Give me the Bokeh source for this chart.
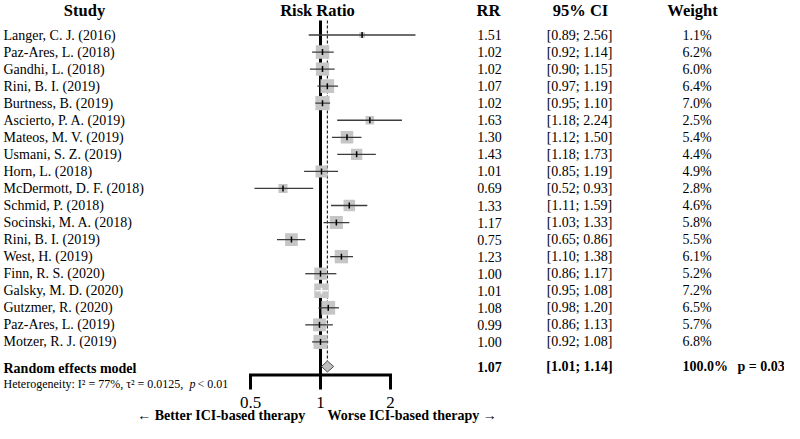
import math
from bokeh.plotting import figure
from bokeh.models import Range1d, LogScale, ColumnDataSource
from bokeh.core.properties import value
from bokeh.embed import file_html
from bokeh.resources import INLINE

# ---------------- data ----------------
studies = ["Langer, C. J. (2016)", "Paz-Ares, L. (2018)", "Gandhi, L. (2018)",
           "Rini, B. I. (2019)", "Burtness, B. (2019)", "Ascierto, P. A. (2019)",
           "Mateos, M. V. (2019)", "Usmani, S. Z. (2019)", "Horn, L. (2018)",
           "McDermott, D. F. (2018)", "Schmid, P. (2018)", "Socinski, M. A. (2018)",
           "Rini, B. I. (2019)", "West, H. (2019)", "Finn, R. S. (2020)",
           "Galsky, M. D. (2020)", "Gutzmer, R. (2020)", "Paz-Ares, L. (2019)",
           "Motzer, R. J. (2019)"]
rr = [1.51, 1.02, 1.02, 1.07, 1.02, 1.63, 1.30, 1.43, 1.01, 0.69, 1.33, 1.17,
      0.75, 1.23, 1.00, 1.01, 1.08, 0.99, 1.00]
ci_lo = [0.89, 0.92, 0.90, 0.97, 0.95, 1.18, 1.12, 1.18, 0.85, 0.52, 1.11, 1.03,
         0.65, 1.10, 0.86, 0.95, 0.98, 0.86, 0.92]
ci_hi = [2.56, 1.14, 1.15, 1.19, 1.10, 2.24, 1.50, 1.73, 1.19, 0.93, 1.59, 1.33,
         0.86, 1.38, 1.17, 1.08, 1.20, 1.13, 1.08]
weight = [1.1, 6.2, 6.0, 6.4, 7.0, 2.5, 5.4, 4.4, 4.9, 2.8, 4.6, 5.8, 5.5, 6.1,
          5.2, 7.2, 6.5, 5.7, 6.8]

summary_label = "Random effects model"
summary_rr = 1.07
summary_lo = 1.01
summary_hi = 1.14
summary_weight = 100.0
summary_p = "p = 0.03"
het_i2 = 77
het_tau2 = 0.0125
het_p = "< 0.01"

null_value = 1.0
axis_ticks = [0.5, 1.0, 2.0]
axis_tick_labels = ["0.5", "1", "2"]
headers = ["Study", "Risk Ratio", "RR", "95% CI", "Weight"]
left_label = "\u2190 Better ICI-based therapy"
right_label = "Worse ICI-based therapy \u2192"

# ---------------- layout (coordinates = figure pixels) ----------------
FIG_W, FIG_H = 784, 423
ONE_X = 320.0          # x of RR = 1
PX_PER_DOUBLING = 70.0
ROW0, ROW_STEP = 34.5, 17.05
SUM_Y = 366.0
AX_Y, AX_TICK_END = 374.5, 389.0
FONT = value("Liberation Serif")

p = figure(width=FIG_W, height=FIG_H,
           x_range=Range1d(0, FIG_W), y_range=Range1d(FIG_H, 0),
           x_axis_type=None, y_axis_type=None, output_backend="svg",
           toolbar_location=None, min_border=0, outline_line_color=None)
p.background_fill_color = "white"
p.border_fill_color = "white"
p.extra_x_ranges = {"rr": Range1d(start=2 ** ((0 - ONE_X) / PX_PER_DOUBLING),
                                  end=2 ** ((FIG_W - ONE_X) / PX_PER_DOUBLING))}
p.extra_x_scales = {"rr": LogScale()}

ys = [ROW0 + ROW_STEP * i for i in range(len(studies))]
sizes = [5.4 * math.sqrt(w) for w in weight]
inside = [(math.log2(h) - math.log2(l)) * PX_PER_DOUBLING < s
          for l, h, s in zip(ci_lo, ci_hi, sizes)]
ci_color = ["white" if f else "#3c3c3c" for f in inside]
tick_color = ["white" if f else "black" for f in inside]

src = ColumnDataSource(dict(
    study=studies, rr=rr, lo=ci_lo, hi=ci_hi, y=ys, size=sizes,
    ci_color=ci_color, tick_color=tick_color,
    rr_txt=[f"{v:.2f}" for v in rr],
    ci_txt=[f"[{l:.2f}; {h:.2f}]" for l, h in zip(ci_lo, ci_hi)],
    w_txt=[f"{w:.1f}%" for w in weight],
))

# reference lines
p.segment(x0=[null_value], x1=[null_value], y0=[20], y1=[AX_TICK_END], line_color="black",
          line_width=3, x_range_name="rr")
p.segment(x0=[summary_rr], x1=[summary_rr], y0=[20], y1=[SUM_Y - 5.5], line_color="black",
          line_width=1, line_dash="3 2", x_range_name="rr")

# study boxes and CIs
p.scatter(x="rr", y="y", size="size", marker="square", fill_color="#c6c6c6",
          line_color=None, x_range_name="rr", source=src)
p.segment(x0="lo", x1="hi", y0="y", y1="y", line_color="ci_color", line_width=1.3,
          x_range_name="rr", source=src)
p.scatter(x="rr", y="y", marker="dash", angle=math.pi / 2, size=6, line_color="tick_color",
          line_width=1.5, x_range_name="rr", source=src)

# summary diamond
p.patch(x=[summary_lo, summary_rr, summary_hi, summary_rr],
        y=[SUM_Y, SUM_Y - 5.5, SUM_Y, SUM_Y + 5.5],
        fill_color="#c0c0c0", line_color="#505050", line_width=1, x_range_name="rr")

# bracket axis
p.line(x=[axis_ticks[0], axis_ticks[0], axis_ticks[-1], axis_ticks[-1]],
       y=[AX_TICK_END, AX_Y, AX_Y, AX_TICK_END], line_color="black", line_width=3,
       line_join="miter", x_range_name="rr")
p.text(x=axis_ticks, y=[402] * len(axis_ticks), text=axis_tick_labels, text_font=FONT,
       text_font_size=value("17px"), text_align="center", text_baseline="middle",
       x_range_name="rr")

# headers
p.text(x=[84, 317, 488, 580, 692], y=[10] * 5, text=headers, text_font=FONT,
       text_font_size=value("16.5px"), text_font_style="bold", text_align="center",
       text_baseline="middle")

# row texts
row_font = value("14px")
p.text(x=3, y="y", text="study", source=src, text_font=FONT, text_font_size=row_font,
       text_align="left", text_baseline="middle")
p.text(x=489, y="y", text="rr_txt", source=src, text_font=FONT, text_font_size=row_font,
       text_align="center", text_baseline="middle")
p.text(x=579, y="y", text="ci_txt", source=src, text_font=FONT, text_font_size=row_font,
       text_align="center", text_baseline="middle")
p.text(x=682, y="y", text="w_txt", source=src, text_font=FONT, text_font_size=row_font,
       text_align="left", text_baseline="middle")

# summary row
p.text(x=[3], y=[SUM_Y + 2], text=[summary_label], text_font=FONT,
       text_font_size=value("14px"), text_font_style="bold", text_baseline="middle")
p.text(x=[489, 579], y=[SUM_Y] * 2,
       text=[f"{summary_rr:.2f}", f"[{summary_lo:.2f}; {summary_hi:.2f}]"],
       text_font=FONT, text_font_size=row_font, text_font_style="bold",
       text_align="center", text_baseline="middle")
p.text(x=[682, 737], y=[SUM_Y] * 2, text=[f"{summary_weight:.1f}%", summary_p],
       text_font=FONT, text_font_size=row_font, text_font_style="bold",
       text_align="left", text_baseline="middle")

# heterogeneity
het_font = value("12px")
p.text(x=[3], y=[383], text=[f"Heterogeneity: I\u00b2 = {het_i2}%, \u03c4\u00b2 = {het_tau2}, "],
       text_font=FONT, text_font_size=het_font, text_baseline="middle")
p.text(x=[189], y=[383], text=["p"], text_font=FONT, text_font_size=het_font,
       text_font_style="italic", text_baseline="middle")
p.text(x=[197], y=[383], text=[het_p], text_font=FONT, text_font_size=het_font,
       text_baseline="middle")

# direction labels
p.text(x=[305], y=[415], text=[left_label], text_font=FONT, text_font_size=value("14px"),
       text_font_style="bold", text_align="right", text_baseline="middle")
p.text(x=[327], y=[415], text=[right_label], text_font=FONT, text_font_size=value("14px"),
       text_font_style="bold", text_align="left", text_baseline="middle")

open("out.html", "w").write(file_html(p, INLINE))
